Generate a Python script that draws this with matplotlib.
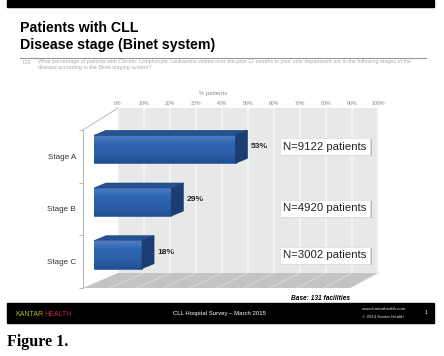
import matplotlib
matplotlib.use("Agg")
import matplotlib.pyplot as plt
from matplotlib.patches import Polygon, Rectangle
from matplotlib.colors import LinearSegmentedColormap
import numpy as np

# data
stages = ["Stage A", "Stage B", "Stage C"]
share = [53, 29, 18]
patients = [9122, 4920, 3002]
pct_ticks = list(range(0, 101, 10))
base_n = 131

W, H = 444, 356
plt.rcParams['font.family'] = ['Liberation Sans', 'DejaVu Sans']

fig = plt.figure(figsize=(W / 100, H / 100), dpi=100)
fig.patch.set_facecolor('white')


def px_axes(x0, y0, x1, y1, z):
    a = fig.add_axes([x0 / W, 1 - y1 / H, (x1 - x0) / W, (y1 - y0) / H])
    a.set_zorder(z)
    return a


# background layer in pixel coordinates
bg = px_axes(0, 0, W, H, 0)
bg.set_xlim(0, W); bg.set_ylim(H, 0); bg.axis('off')

bg.add_patch(Rectangle((7, 0), 427, 7, color='black'))
bg.text(20, 28, "Patients with CLL", fontsize=10.2, fontweight='bold', va='center')
bg.text(20, 45, "Disease stage (Binet system)", fontsize=10.2, fontweight='bold', va='center')
bg.plot([20, 426], [58, 58], color='#9a9a9a', lw=0.8)
bg.text(22, 62, "D.8", fontsize=3.9, color='#aaaaaa', va='center')
bg.text(38, 62, "What percentage of patients with Chronic Lymphocytic Leukaemia visited over the past 12 months "
        "in your unit/ department are in the following stages of the",
        fontsize=3.9, color='#aaaaaa', va='center')
bg.text(38, 67.5, "disease according to the Binet staging system?", fontsize=3.9, color='#aaaaaa', va='center')

# floor and left wall edge
bg.add_patch(Polygon([(83, 288), (350, 288), (378, 273), (118, 273)], closed=True,
                     facecolor='#c3c3c3', edgecolor='none'))
for i in range(1, 11):
    fx = 83 + i * 26.7
    bx = 118 + i * 26.0
    bg.plot([fx, bx], [288, 273], color='#dadada', lw=0.7)
bg.plot([83, 118], [130, 108], color='#b0b0b0', lw=0.6)

# footer
bg.text(350, 298, f"Base: {base_n} facilities", fontsize=4.8, fontweight='bold', style='italic',
        ha='right', va='center')
bg.add_patch(Rectangle((7, 303), 427, 20, color='black'))
bg.text(15, 314, "KANTAR", fontsize=5, color='#b9b23c', va='center')
bg.text(44, 314, "HEALTH", fontsize=5, color='#c8283c', va='center')
bg.text(219, 313, "CLL Hospital Survey \u2013 March 2015", fontsize=4.3, color='white',
        ha='center', va='center')
bg.text(362, 309.5, "www.kantarhealth.com", fontsize=3.2, color='#dddddd', va='center')
bg.text(362, 316.5, "\u00a9 2013 Kantar Health", fontsize=3.2, color='#dddddd', va='center')
bg.text(425, 313, "1", fontsize=3.6, color='white', va='center')
bg.text(7, 342, "Figure 1.", fontsize=11.5, fontweight='bold', family='Liberation Serif', va='center')

# back wall with percentage scale
wall = px_axes(118, 108, 378, 273, 1)
wall.set_facecolor('#e7e9e9')
wall.set_xlim(0, 100)
wall.set_xticks(pct_ticks)
wall.set_xticklabels([f"{t}%" for t in pct_ticks], fontsize=3.8, color='#888888')
wall.xaxis.tick_top()
wall.xaxis.set_label_position('top')
wall.set_xlabel("% patients", fontsize=4.3, color='#888888')
wall.xaxis.set_label_coords(0.365, 1.08)
wall.tick_params(axis='x', length=0, pad=1.5)
wall.set_yticks([])
wall.grid(axis='x', color='#f6f6f6', lw=1.2)
for s in wall.spines.values():
    s.set_visible(False)

# front plane with bars
ax = px_axes(83, 130, 350, 288, 2)
ax.patch.set_alpha(0)
ax.set_xlim(0, 100)
ax.set_ylim(2.5, -0.5)
ypos = np.arange(len(stages))
ax.set_yticks(ypos)
ax.set_yticklabels(stages, fontsize=5.8, color='#333333')
ax.set_yticks(np.arange(-0.5, len(stages)), minor=True)
ax.tick_params(axis='y', which='major', length=0, pad=5)
ax.tick_params(axis='y', which='minor', length=3, color='#aaaaaa', width=0.6)
ax.set_xticks([])
for k in ['top', 'right', 'bottom']:
    ax.spines[k].set_visible(False)
ax.spines['left'].set_color('#aaaaaa')
ax.spines['left'].set_linewidth(0.6)

sx = 267 / 100.0
sy = 158 / 3.0
dx, dy = 11 / sx, 7 / sy      # bars sit a bit behind the front plane
ddx, ddy = 12 / sx, 5 / sy    # bar depth
h = 28 / sy

grad = LinearSegmentedColormap.from_list('bar', ['#4a7dc4', '#2e63b0', '#2c5faa', '#204e92'])
bars = ax.barh(ypos - dy, share, left=dx, height=h, color='#2d60ab',
               edgecolor='#1d4480', lw=0.4, zorder=3)
for b, v, y in zip(bars, share, ypos - dy):
    yt, yb = y - h / 2, y + h / 2
    x1 = dx + v
    img = ax.imshow(np.linspace(0, 1, 50).reshape(-1, 1), cmap=grad, aspect='auto',
                    extent=(dx, x1, yb, yt), zorder=3.5, interpolation='bilinear')
    img.set_clip_path(b)
    ax.add_patch(Polygon([(dx, yt), (x1, yt), (x1 + ddx, yt - ddy), (dx + ddx, yt - ddy)],
                         closed=True, facecolor='#25518f', edgecolor='#1d4480', lw=0.4, zorder=4))
    ax.add_patch(Polygon([(x1, yt), (x1 + ddx, yt - ddy), (x1 + ddx, yb - ddy), (x1, yb)],
                         closed=True, facecolor='#1b3e74', edgecolor='#17355f', lw=0.4, zorder=4))
    ax.text(x1 + ddx + 1.3, y - 0.05, f"{v}%", fontsize=6.1, fontweight='bold',
            color='#222222', va='center', zorder=5)
ax.set_xlim(0, 100)
ax.set_ylim(2.5, -0.5)

# N boxes on top layer
fg = px_axes(0, 0, W, H, 3)
fg.set_xlim(0, W); fg.set_ylim(H, 0); fg.axis('off')
box_y = [146.5, 208, 255]
for n, cy in zip(patients, box_y):
    fg.add_patch(Rectangle((282, cy - 7.5), 90, 17, facecolor='#b8b8b8', edgecolor='none'))
    fg.add_patch(Rectangle((280, cy - 8.5), 90, 17, facecolor='white', edgecolor='#dddddd', lw=0.5))
    fg.text(325, cy, f"N={n} patients", fontsize=8.2, color='#222222', ha='center', va='center')

fig.savefig("out.png", dpi=100)
